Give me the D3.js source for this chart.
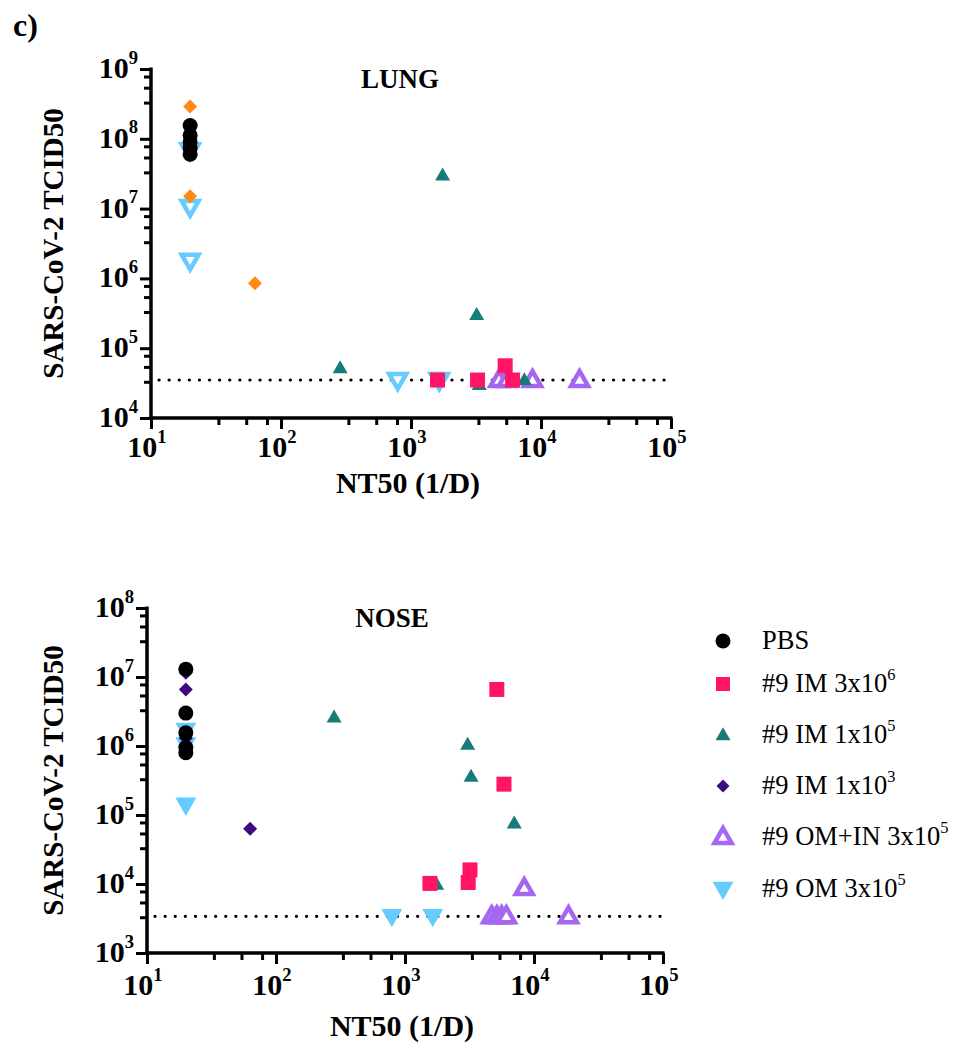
<!DOCTYPE html>
<html><head><meta charset="utf-8">
<script src="https://cdn.jsdelivr.net/npm/d3@7"></script>
<style>body{margin:0;background:#fff}svg{display:block}</style>
</head><body>
<script>
// ---------- DATA ----------
const xTickValues = [1e1, 1e2, 1e3, 1e4, 1e5];
const lungYTickValues = [1e4, 1e5, 1e6, 1e7, 1e8, 1e9];
const noseYTickValues = [1e3, 1e4, 1e5, 1e6, 1e7, 1e8];
const minorMultipliers = [3.3, 5.4, 7.8];
const groupNames = ["PBS", "#9 IM 3x10^6", "#9 IM 1x10^5", "#9 IM 1x10^3", "#9 OM+IN 3x10^5", "#9 OM 3x10^5"];

// LUNG
const lungPBS_x = [20, 20, 20, 20, 20];
const lungPBS_y = [1.55e8, 1.12e8, 9.0e7, 7.4e7, 6.0e7];
const lungIM3e6_x = [1600, 3250, 5300, 6050];
const lungIM3e6_y = [3.5e4, 3.5e4, 5.6e4, 3.5e4];
const lungIM1e5_x = [1750, 3200, 285, 3350, 7450];
const lungIM1e5_y = [3.0e7, 3.0e5, 5.2e4, 3.0e4, 3.5e4];
const lungIM1e3_x = [20, 20, 63];
const lungIM1e3_y = [2.9e8, 1.5e7, 8.5e5];
const lungOMIN_x = [4750, 5500, 8600, 19800];
const lungOMIN_y = [3.5e4, 3.5e4, 3.5e4, 3.5e4];
const lungOM_x = [20, 20, 20, 790, 1650];
const lungOM_y = [6.9e7, 1.06e7, 1.8e6, 3.5e4, 3.5e4];
const lungLimit = 3.5e4;

// NOSE
const nosePBS_x = [20, 20, 20, 20, 20];
const nosePBS_y = [1.3e7, 3.0e6, 1.55e6, 9.5e5, 8.0e5];
const noseIM3e6_x = [5150, 5850, 1560, 3190, 3090];
const noseIM3e6_y = [6.6e6, 2.8e5, 1.02e4, 1.6e4, 1.05e4];
const noseIM1e5_x = [282, 3060, 3250, 7030, 1760];
const noseIM1e5_y = [2.6e6, 1.05e6, 3.6e5, 7.6e4, 9.8e3];
const noseIM1e3_x = [20, 20, 20, 63];
const noseIM1e3_y = [1.15e7, 6.6e6, 1.3e6, 6.3e4];
const noseOMIN_x = [4700, 5150, 5600, 6100, 8400, 18500];
const noseOMIN_y = [3.4e3, 3.4e3, 3.4e3, 3.4e3, 8.7e3, 3.4e3];
const noseOM_x = [20, 20, 20, 790, 1640];
const noseOM_y = [1.7e6, 1.05e6, 1.4e5, 3.4e3, 3.4e3];
const noseLimit = 3.4e3;

// ---------- STYLE ----------
const C = {pbs:"#000000", im3e6:"#FF1466", im1e5:"#157C79", im1e3nose:"#3D0B7E", im1e3lung:"#FF8A16", omin:"#A567F2", om:"#66CCFF"};
const SERIF = "'Liberation Serif','Times New Roman',serif";

const W = 961, H = 1049;
const svg = d3.select("body").append("svg").attr("width", W).attr("height", H);

svg.append("text").attr("x", 13).attr("y", 36).attr("font-family", SERIF)
  .attr("font-weight", "bold").attr("font-size", 32).text("c)");

function supText(g, x, y, base, sup, opts) {
  const t = g.append("text").attr("x", x).attr("y", y)
    .attr("font-family", SERIF).attr("font-size", opts.size)
    .attr("font-weight", opts.weight || "normal")
    .attr("text-anchor", opts.anchor || "start")
    .attr("dominant-baseline", "middle").attr("fill", "#000");
  t.append("tspan").text(base);
  if (sup) {
    t.append("tspan").attr("font-size", opts.size * 0.62).attr("dy", -opts.size * 0.38).text(sup);
  }
  return t;
}

function markerPath(type, size) {
  const s = size;
  if (type === "square") return `M${-s/2},${-s/2}h${s}v${s}h${-s}Z`;
  if (type === "tri") { const h = s * 0.87; return `M0,${-h*0.6}L${s/2},${h*0.4}L${-s/2},${h*0.4}Z`; }
  if (type === "dtri") { const h = s * 0.87; return `M0,${h*0.6}L${s/2},${-h*0.4}L${-s/2},${-h*0.4}Z`; }
  if (type === "diamond") return `M0,${-s/2}L${s/2},0L0,${s/2}L${-s/2},0Z`;
  return "";
}

function drawMarker(g, type, x, y, color, size, hollow) {
  if (type === "circle") {
    g.append("circle").attr("cx", x).attr("cy", y).attr("r", size / 2).attr("fill", color);
    return;
  }
  const p = g.append("path").attr("d", markerPath(type, hollow ? size - 4 : size))
    .attr("transform", `translate(${x},${y})`);
  if (hollow) p.attr("fill", "#fff").attr("stroke", color).attr("stroke-width", 4.5).attr("stroke-linejoin", "miter");
  else p.attr("fill", color);
}

function panel(cfg) {
  const g = svg.append("g");
  const x = d3.scaleLog().domain([1e1, 1e5]).range([cfg.x0, cfg.x1]);
  const y = d3.scaleLog().domain([cfg.yTicks[0], cfg.yTicks[cfg.yTicks.length - 1]]).range([cfg.yB, cfg.yT]);

  const xMinor = [];
  xTickValues.slice(0, -1).forEach(v => minorMultipliers.forEach(m => xMinor.push(v * m)));
  const yMinor = [];
  cfg.yTicks.slice(0, -1).forEach(v => minorMultipliers.forEach(m => yMinor.push(v * m)));

  const xAxis = d3.axisBottom(x).tickValues(xTickValues).tickSize(11).tickFormat("");
  const xAxisMinor = d3.axisBottom(x).tickValues(xMinor).tickSize(7).tickFormat("");
  const yAxis = d3.axisLeft(y).tickValues(cfg.yTicks).tickSize(11).tickFormat("");
  const yAxisMinor = d3.axisLeft(y).tickValues(yMinor).tickSize(7).tickFormat("");

  [xAxis, xAxisMinor].forEach(a => {
    const ga = g.append("g").attr("transform", `translate(0,${cfg.yB})`).call(a);
    ga.select(".domain").remove();
    ga.selectAll("line").attr("stroke", "#000").attr("stroke-width", 3);
  });
  [yAxis, yAxisMinor].forEach(a => {
    const ga = g.append("g").attr("transform", `translate(${cfg.x0},0)`).call(a);
    ga.select(".domain").remove();
    ga.selectAll("line").attr("stroke", "#000").attr("stroke-width", 3);
  });
  g.append("line").attr("x1", cfg.x0 - 1.5).attr("x2", cfg.x1 + 1.5).attr("y1", cfg.yB).attr("y2", cfg.yB)
    .attr("stroke", "#000").attr("stroke-width", 3.5);
  g.append("line").attr("x1", cfg.x0).attr("x2", cfg.x0).attr("y1", cfg.yT - 1.5).attr("y2", cfg.yB + 1.5)
    .attr("stroke", "#000").attr("stroke-width", 3.5);

  xTickValues.forEach(v => {
    supText(g, x(v) - 4, cfg.yB + cfg.tickGap, "10", String(Math.round(Math.log10(v))),
      {size: 30, weight: "bold", anchor: "middle"});
  });
  cfg.yTicks.forEach(v => {
    supText(g, cfg.x0 - 13, y(v) + 2, "10", String(Math.round(Math.log10(v))),
      {size: 30, weight: "bold", anchor: "end"});
  });

  g.append("text").attr("x", (cfg.x0 + cfg.x1) / 2 - 3).attr("y", cfg.yB + cfg.titleGap)
    .attr("text-anchor", "middle").attr("dominant-baseline", "middle")
    .attr("font-family", SERIF).attr("font-weight", "bold").attr("font-size", 30).text("NT50 (1/D)");
  g.append("text").attr("transform", `translate(56,${(cfg.yT + cfg.yB) / 2}) rotate(-90)`)
    .attr("text-anchor", "middle").attr("dominant-baseline", "middle")
    .attr("font-family", SERIF).attr("font-weight", "bold").attr("font-size", 29).text("SARS-CoV-2 TCID50");

  g.append("text").attr("x", cfg.titleX).attr("y", cfg.yT + 13)
    .attr("text-anchor", "middle").attr("dominant-baseline", "middle")
    .attr("font-family", SERIF).attr("font-weight", "bold").attr("font-size", 27).text(cfg.title);

  g.append("line").attr("x1", cfg.x0 + 8).attr("x2", cfg.x1).attr("y1", y(cfg.limit)).attr("y2", y(cfg.limit))
    .attr("stroke", "#000").attr("stroke-width", 3.2).attr("stroke-linecap", "round")
    .attr("stroke-dasharray", "0.1 10");

  cfg.series.forEach(s => {
    s.xs.forEach((xv, i) => drawMarker(g, s.type, x(xv), y(s.ys[i]), s.color, s.size, s.hollow));
  });
}

panel({
  x0: 151, x1: 671, yT: 69, yB: 418, yTicks: lungYTickValues, title: "LUNG", titleX: 400, limit: lungLimit,
  tickGap: 32, titleGap: 68,
  series: [
    {xs: lungOM_x, ys: lungOM_y, type: "dtri", color: C.om, size: 21, hollow: true},
    {xs: lungOMIN_x, ys: lungOMIN_y, type: "tri", color: C.omin, size: 21, hollow: true},
    {xs: lungIM1e3_x, ys: lungIM1e3_y, type: "diamond", color: C.im1e3lung, size: 14},
    {xs: lungIM1e5_x, ys: lungIM1e5_y, type: "tri", color: C.im1e5, size: 15},
    {xs: lungIM3e6_x, ys: lungIM3e6_y, type: "square", color: C.im3e6, size: 15},
    {xs: lungPBS_x, ys: lungPBS_y, type: "circle", color: C.pbs, size: 15}
  ]
});

panel({
  x0: 147, x1: 663, yT: 608, yB: 953, yTicks: noseYTickValues, title: "NOSE", titleX: 392, limit: noseLimit,
  tickGap: 35, titleGap: 76,
  series: [
    {xs: noseOM_x, ys: noseOM_y, type: "dtri", color: C.om, size: 21, hollow: false},
    {xs: noseOMIN_x, ys: noseOMIN_y, type: "tri", color: C.omin, size: 21, hollow: true},
    {xs: noseIM1e3_x, ys: noseIM1e3_y, type: "diamond", color: C.im1e3nose, size: 14},
    {xs: noseIM1e5_x, ys: noseIM1e5_y, type: "tri", color: C.im1e5, size: 15},
    {xs: noseIM3e6_x, ys: noseIM3e6_y, type: "square", color: C.im3e6, size: 15},
    {xs: nosePBS_x, ys: nosePBS_y, type: "circle", color: C.pbs, size: 15}
  ]
});

const legendRows = [
  {name: groupNames[0], type: "circle", color: C.pbs, size: 15, y: 641},
  {name: groupNames[1], type: "square", color: C.im3e6, size: 14, y: 684},
  {name: groupNames[2], type: "tri", color: C.im1e5, size: 15, y: 735},
  {name: groupNames[3], type: "diamond", color: C.im1e3nose, size: 13, y: 786},
  {name: groupNames[4], type: "tri", color: C.omin, size: 21, hollow: true, y: 837},
  {name: groupNames[5], type: "dtri", color: C.om, size: 21, y: 889}
];
const lg = svg.append("g");
legendRows.forEach(r => {
  drawMarker(lg, r.type, 723, r.y, r.color, r.size, r.hollow);
  const parts = r.name.split("^");
  supText(lg, 762, r.y + 2, parts[0], parts[1], {size: 26.5});
});
</script>
</body></html>
